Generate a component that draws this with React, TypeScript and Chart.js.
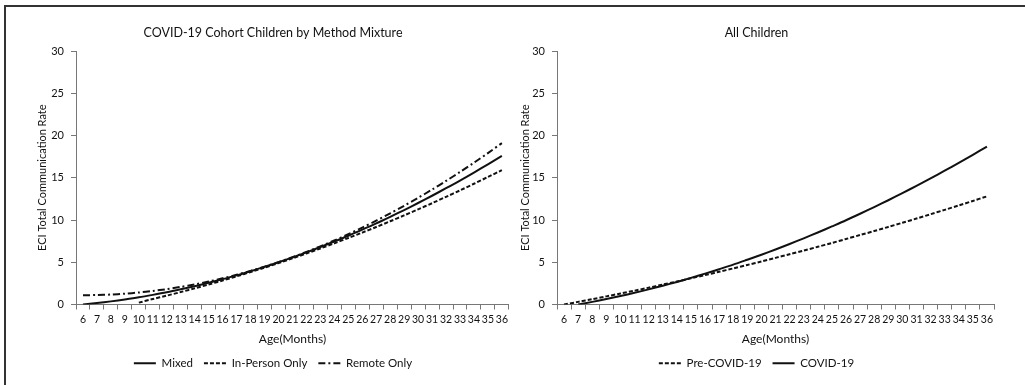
import React, { useEffect, useRef } from "react";
import { Chart, registerables } from "chart.js";

Chart.register(...registerables);

// ---- data ----
const ageLabels = [
  "6", "7", "8", "9", "10", "11", "12", "13", "14", "15", "16", "17", "18", "19", "20",
  "21", "22", "23", "24", "25", "26", "27", "28", "29", "30", "31", "32", "33", "34", "35", "36",
];

// Left chart: COVID-19 cohort by method mixture
const mixed = [
  0, 0.17, 0.37, 0.6, 0.85, 1.14, 1.45, 1.8, 2.17, 2.57, 3.0, 3.45, 3.94, 4.45, 5.0,
  5.57, 6.17, 6.8, 7.46, 8.14, 8.86, 9.6, 10.38, 11.18, 12.01, 12.87, 13.76, 14.67, 15.62, 16.59, 17.6,
];
const inPersonOnly = [
  null, null, null, null, 0.22, 0.65, 1.05, 1.47, 1.91, 2.37, 2.84, 3.33, 3.84, 4.36, 4.9,
  5.46, 6.04, 6.63, 7.24, 7.87, 8.51, 9.17, 9.85, 10.55, 11.26, 11.99, 12.74, 13.5, 14.29, 15.09, 15.9,
];
const remoteOnly = [
  1.1, 1.12, 1.18, 1.28, 1.42, 1.6, 1.82, 2.08, 2.38, 2.72, 3.1, 3.52, 3.98, 4.48, 5.02,
  5.6, 6.22, 6.88, 7.58, 8.32, 9.1, 9.92, 10.78, 11.68, 12.62, 13.6, 14.62, 15.68, 16.78, 17.92, 19.1,
];

// Right chart: all children
const preCovid = [
  0, 0.31, 0.63, 0.96, 1.3, 1.64, 1.99, 2.36, 2.72, 3.1, 3.48, 3.87, 4.27, 4.68, 5.09,
  5.52, 5.95, 6.38, 6.83, 7.28, 7.75, 8.22, 8.69, 9.18, 9.67, 10.17, 10.68, 11.2, 11.72, 12.25, 12.8,
];
const covid = [
  null, 0, 0.31, 0.64, 1.0, 1.38, 1.79, 2.22, 2.67, 3.15, 3.65, 4.18, 4.72, 5.3, 5.89,
  6.51, 7.16, 7.83, 8.52, 9.24, 9.97, 10.74, 11.53, 12.34, 13.18, 14.04, 14.92, 15.83, 16.76, 17.71, 18.69,
];

const yTicks = [0, 5, 10, 15, 20, 25, 30];

const FONT = "Lato, 'Liberation Sans', sans-serif";
const TEXT = "#111";
const AXIS = "#777";
const LINE = "#111";

type Props = {
  title: string;
  datasets: any[];
  padLeft: number;
  padRight: number;
  yWidth: number;
  left: number;
  width: number;
};

function LineChart({ title, datasets, padLeft, padRight, yWidth, left, width }: Props) {
  const ref = useRef<HTMLCanvasElement>(null);
  useEffect(() => {
    const defaultGen = (Chart.defaults.plugins.legend.labels as any).generateLabels;
    const chart = new Chart(ref.current as HTMLCanvasElement, {
      type: "line",
      data: { labels: ageLabels, datasets },
      options: {
        animation: false,
        responsive: false,
        layout: { padding: { left: padLeft, right: padRight, top: 0, bottom: 6 } },
        plugins: {
          title: {
            display: true,
            text: title,
            color: TEXT,
            font: { family: FONT, size: 12.5, weight: "normal" },
            padding: { top: 25, bottom: 11 },
          },
          legend: {
            position: "bottom",
            labels: {
              usePointStyle: true,
              pointStyle: "line",
              pointStyleWidth: 22,
              boxHeight: 11,
              color: TEXT,
              font: { family: FONT, size: 11.5 },
              padding: 11,
              generateLabels: (c: any) =>
                defaultGen(c).map((item: any) => ({
                  ...item,
                  lineDash: c.data.datasets[item.datasetIndex].borderDash || [],
                  lineWidth: 2,
                  strokeStyle: LINE,
                })),
            },
          },
          tooltip: { enabled: false },
        },
        elements: {
          point: { radius: 0, hoverRadius: 0 },
          line: { tension: 0.3, borderWidth: 2 },
        },
        scales: {
          x: {
            type: "category",
            offset: true,
            grid: {
              offset: true,
              drawOnChartArea: false,
              drawTicks: true,
              tickLength: 5,
              tickColor: AXIS,
            },
            border: { color: AXIS, width: 1 },
            ticks: {
              autoSkip: false,
              maxRotation: 0,
              minRotation: 0,
              padding: 4,
              color: TEXT,
              font: { family: FONT, size: 10.5 },
            },
            title: {
              display: true,
              text: "Age(Months)",
              color: TEXT,
              font: { family: FONT, size: 12 },
              padding: { top: 2, bottom: 0 },
            },
          },
          y: {
            min: 0,
            max: 30,
            afterBuildTicks: (s: any) => {
              s.ticks = yTicks.map((v) => ({ value: v }));
            },
            afterFit: (s: any) => {
              s.width = yWidth;
            },
            grid: {
              drawOnChartArea: false,
              drawTicks: true,
              tickLength: 5,
              tickColor: AXIS,
            },
            border: { color: AXIS, width: 1 },
            ticks: {
              padding: 7,
              color: TEXT,
              font: { family: FONT, size: 11 },
            },
            title: {
              display: true,
              text: "ECI Total Communication Rate",
              color: TEXT,
              font: { family: FONT, size: 11 },
              padding: { top: 0, bottom: 0 },
            },
          },
        },
      },
    } as any);
    return () => chart.destroy();
  }, []);
  return (
    <canvas
      ref={ref}
      width={width}
      height={385}
      style={{ position: "absolute", left, top: 0, width, height: 385, display: "block" }}
    />
  );
}

export default function App() {
  const leftSets = [
    { label: "Mixed", data: mixed, borderColor: LINE, backgroundColor: LINE, borderWidth: 2 },
    {
      label: "In-Person Only",
      data: inPersonOnly,
      borderColor: LINE,
      backgroundColor: LINE,
      borderWidth: 2,
      borderDash: [4, 2],
    },
    {
      label: "Remote Only",
      data: remoteOnly,
      borderColor: LINE,
      backgroundColor: LINE,
      borderWidth: 2,
      borderDash: [7, 3, 2, 3],
    },
  ];
  const rightSets = [
    {
      label: "Pre-COVID-19",
      data: preCovid,
      borderColor: LINE,
      backgroundColor: LINE,
      borderWidth: 2,
      borderDash: [4, 2],
    },
    { label: "COVID-19", data: covid, borderColor: LINE, backgroundColor: LINE, borderWidth: 2 },
  ];
  return (
    <div
      style={{
        position: "fixed",
        left: 0,
        top: 0,
        width: 1025,
        height: 385,
        background: "#fff",
        overflow: "hidden",
      }}
    >
      <LineChart
        title="COVID-19 Cohort Children by Method Mixture"
        datasets={leftSets}
        padLeft={36}
        padRight={2}
        yWidth={40}
        left={0}
        width={512}
      />
      <LineChart
        title="All Children"
        datasets={rightSets}
        padLeft={7}
        padRight={31}
        yWidth={38}
        left={512}
        width={513}
      />
      <div
        style={{
          position: "absolute",
          left: 4,
          top: 5,
          right: -10,
          bottom: -10,
          borderLeft: "2px solid #333",
          borderTop: "2px solid #333",
          pointerEvents: "none",
        }}
      />
    </div>
  );
}
